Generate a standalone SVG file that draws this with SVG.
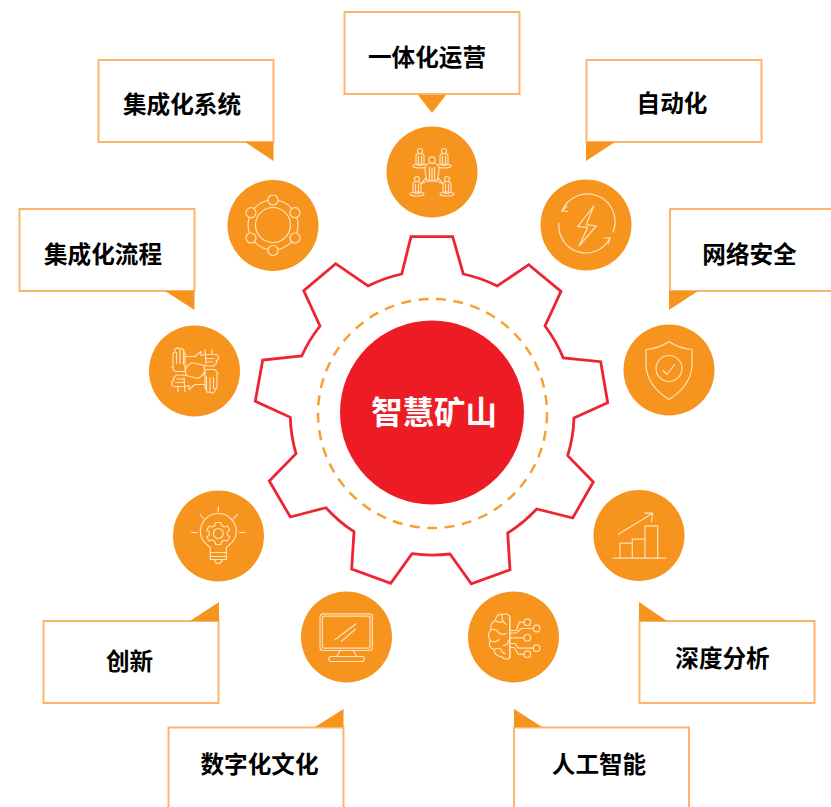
<svg xmlns="http://www.w3.org/2000/svg" width="831" height="807" viewBox="0 0 831 807">
<style>
.disc{fill:#f7941e}
.box{fill:#fff;stroke:#fdb56e;stroke-width:2}
.tail{fill:#f7941e}
.ic{fill:none;stroke:#fde2bd;stroke-width:1.2;stroke-linecap:round;stroke-linejoin:round}
.ic .o{fill:#f7941e}
.lb{font-family:"Noto Sans CJK SC","Liberation Sans",sans-serif;font-weight:700;font-size:23.6px;fill:#000;text-anchor:middle}
.gear{fill:none;stroke:#ed2431;stroke-width:2.800;stroke-linejoin:miter}
</style>
<defs>
<g id="person"><circle cx="0" cy="-7" r="2.500"/><path d="M-4 6V-2Q-4-4.500 0-4.500T4-2V6M-1.500-2V7M1.500-2V7M-4 6Q0 9 4 6"/><ellipse cx="0" cy="8" rx="7" ry="2"/></g>
<g id="hand"><path d="M-22-3V-16Q-22-19-20-18V-21Q-18-24-15-21.500Q-12-23-11-19Q-10-18-10-16V-3M-18.500-18V-7M-15-21V-7M-11.500-19V-6M-23-3L-20 1H-11L-8-3"/><path d="M-10-14L0-14L6-19V-15L10-16H21Q24-15 23-13Q24-10 21-10Q23-7 20-6.500Q20-4 16-4.500L8-5"/><path d="M10-21L11-7M17-21V-16M11-12H19M11-8.500H18"/></g>
</defs>

<g id="connectors"></g>

<g id="hub">
<path class="gear" d="M411 236.700H452.700L463.300 274A143 143 0 0 1 497.300 286L528.700 264.700L561 291.300L545 326A143 143 0 0 1 563.300 358L600.700 361.700L607.700 402.700L574 418A143 143 0 0 1 567.700 455.700L593.300 482L572.700 518L536.700 509A143 143 0 0 1 507.700 533L510 569.700L471.300 583.700L450 554A143 143 0 0 1 412 553.700L390.700 583.300L351.700 569L354 531.700A143 143 0 0 1 326 507.700L290.300 517L269.300 481L296 453.700A143 143 0 0 1 290.300 417.300L255.300 401.300L262.700 360L301.700 356A143 143 0 0 1 320 326L303.700 290.700L335.700 263.700L368 286A143 143 0 0 1 401.700 274Z"/>
<circle cx="432.500" cy="413.500" r="114.500" fill="none" stroke="#f5a035" stroke-width="2.500" stroke-dasharray="10 7.500"/>
<circle cx="432" cy="412.500" r="92" fill="#ed1c24"/>
<text x="434" y="424" font-family="'Noto Sans CJK SC','Liberation Sans',sans-serif" font-weight="700" font-size="31.400" fill="#fff" text-anchor="middle">智慧矿山</text>
</g>

<g id="node-yitihua">
<rect class="box" x="344.500" y="12" width="175" height="82"/><path class="tail" d="M418 95H446L432 113Z"/>
<text class="lb" x="427" y="65.500">一体化运营</text>
<circle class="disc" cx="432" cy="172" r="45.500"/>
<g class="ic" transform="translate(432 172)">
<use href="#person" x="-12" y="-14"/><use href="#person" x="12" y="-14"/><use href="#person" x="-15" y="14"/><use href="#person" x="15" y="14"/>
<path class="o" d="M-7-3Q-7-9 0-9T7-3L6 6Q5 9 3 9H-3Q-5 9-6 6Z"/>
<circle class="o" cx="0" cy="-12" r="3.200"/>
<path d="M-2.500-5V8M0-4V9M2.500-5V8M-6 6L-11 12M6 6L11 12M-9 11Q0 6 9 11"/>
</g>
</g>

<g id="node-zidonghua">
<rect class="box" x="586.500" y="60" width="175" height="82"/><path class="tail" d="M586 142H615L586 161Z"/>
<text class="lb" x="672" y="112">自动化</text>
<circle class="disc" cx="586" cy="225" r="45.500"/>
<g class="ic" transform="translate(586 225)">
<path d="M7.700-19L-8.300 1.700L1.700 2.300L-7 21L10.300 1L.300-.300Z"/>
<path d="M-24-14A27 27 0 0 1 27 7M-27-2A27 27 0 0 0 24 13"/>
<path d="M-19-19L-24-14L-18-13.500M18 13L24 13L22 19"/>
</g>
</g>

<g id="node-wangluo">
<rect class="box" x="670" y="209" width="170" height="82"/><path class="tail" d="M669 291H698L669 310Z"/>
<text class="lb" x="749.500" y="262.500">网络安全</text>
<circle class="disc" cx="669" cy="370" r="45.500"/>
<g class="ic" transform="translate(669 369.500)">
<path d="M0-28Q-10-21-23-20V-3Q-21 17 0 30Q21 17 23-3V-20Q10-21 0-28Z"/>
<circle cx="0" cy="-1" r="13"/>
<path d="M-6 1L-2 5L5.500-5"/>
</g>
</g>

<g id="node-shendu">
<rect class="box" x="639.500" y="621" width="175" height="82"/><path class="tail" d="M639 621H667L639 602Z"/>
<text class="lb" x="722.500" y="666.500">深度分析</text>
<circle class="disc" cx="639" cy="535.500" r="45.500"/>
<g class="ic" transform="translate(639 535.500)">
<path d="M-26 22.700H26.700M-19 22.700V7.700H-6.700V22.700M-6.700 7.700V3.700H6V22.700M6 3.700V-9.700H18.700V22.700"/>
<path d="M-20.700-1.300L13.700-22.300M6-22.300H13.700L12.500-14"/>
</g>
</g>

<g id="node-rengong">
<rect class="box" x="514" y="727.500" width="175" height="84"/><path class="tail" d="M514 727H542L514 709Z"/>
<text class="lb" x="599" y="772.500">人工智能</text>
<circle class="disc" cx="513.500" cy="637" r="45.500"/>
<g class="ic" transform="translate(513.300 636.500)">
<path d="M-3.500-20Q-6-24-11-22Q-17-23-18-16Q-24-13-22-7Q-27-2-23 4Q-26 11-19 13Q-19 20-12 20Q-7 25-3.500 21Z"/>
<path d="M-3.500-20V21M-18-16Q-14-13-11-15M-22-7Q-17-8-15-4M-11-22Q-12-15-7-12M-23 4Q-18 7-14 3M-15-4Q-11-1-7-3M-10 9Q-5 9-5 4M-19 13Q-15 11-12 13Q-11 17-8 17"/>
<path d="M-3.500-6H3L6-14.300H10.700M-3.500-3.500H3L8-8H20M-3.500 1.300H10.700M-3.500 7H2L5 11.700H20M-3.500 11H1L5 17.700H10.700"/>
<g class="o"><circle cx="14" cy="-14.300" r="3.300"/><circle cx="23.300" cy="-8" r="3.300"/><circle cx="14" cy="1.300" r="3.300"/><circle cx="23.300" cy="11.700" r="3.300"/><circle cx="14" cy="17.700" r="3.300"/></g>
</g>
</g>

<g id="node-shuzi">
<rect class="box" x="168.500" y="727.500" width="175" height="84"/><path class="tail" d="M315 727H343.500V709Z"/>
<text class="lb" x="259.500" y="772.500">数字化文化</text>
<circle class="disc" cx="346.500" cy="637" r="45.500"/>
<g class="ic" transform="translate(346.700 636.500)">
<rect x="-26.700" y="-22.700" width="52.400" height="36.700" rx="3"/>
<rect x="-24.300" y="-20.300" width="47.600" height="32" rx="1.500"/>
<path d="M-11.700 3.300L9.300-12.700M-5 4.500L8.500-7M-6.500 14L-10 20M6.500 14L10 20"/>
<rect x="-17.700" y="20" width="35" height="5" rx="1.500"/>
</g>
</g>

<g id="node-chuangxin">
<rect class="box" x="43.500" y="621" width="175" height="82"/><path class="tail" d="M190 621H219V602Z"/>
<text class="lb" x="129.500" y="669.500">创新</text>
<circle class="disc" cx="218.500" cy="536" r="45.500"/>
<g class="ic" transform="translate(218.300 535.500)">
<path d="M-8 17V12Q-18 5-18-4A18 18 0 1 1 18-4Q18 5 8 12V17M-8 17H8"/>
<path d="M-8 17V24H8V17M-8 21H8M-4 24Q-3 28 0 28T4 24"/>
<path d="M0-29V-24M-27-3H-21M21-3H27M-18-21L-15-17M19-21L15-17"/>
<path d="M-2.500-13H2.500L3.500-10L6-8.500L9-9.500L11.500-5.500L9-3.500V-.500L11.500 1.500L9 5.500L6 4.500L3.500 6L2.500 9H-2.500L-3.500 6L-6 4.500L-9 5.500L-11.500 1.500L-9-.500V-3.500L-11.500-5.500L-9-9.500L-6-8.500L-3.500-10Z"/>
<circle cx="0" cy="-2" r="5"/>
</g>
</g>

<g id="node-liucheng">
<rect class="box" x="19.500" y="209" width="175" height="82"/><path class="tail" d="M165 291H194.500V310Z"/>
<text class="lb" x="103" y="262.500">集成化流程</text>
<circle class="disc" cx="194.500" cy="371" r="45.500"/>
<g class="ic" transform="translate(195 370.500)">
<use href="#hand"/><use href="#hand" transform="rotate(180)"/>
<path d="M-10-3L-3-8L9-5L10 3L3 8L-9 5Z"/>
</g>
</g>

<g id="node-xitong">
<rect class="box" x="98.500" y="60" width="175" height="82"/><path class="tail" d="M245 142H273.500V161Z"/>
<text class="lb" x="182" y="112.500">集成化系统</text>
<circle class="disc" cx="273" cy="225.500" r="45.500"/>
<g class="ic" transform="translate(273 225)">
<circle r="25"/><circle r="17.500"/>
<g class="o"><circle cy="-25" r="5"/><circle cy="25.500" r="5"/><circle cx="-22" cy="-12.300" r="5"/><circle cx="22" cy="-12.300" r="5"/><circle cx="-22" cy="13" r="5"/><circle cx="22" cy="13" r="5"/></g>
</g>
</g>
</svg>
